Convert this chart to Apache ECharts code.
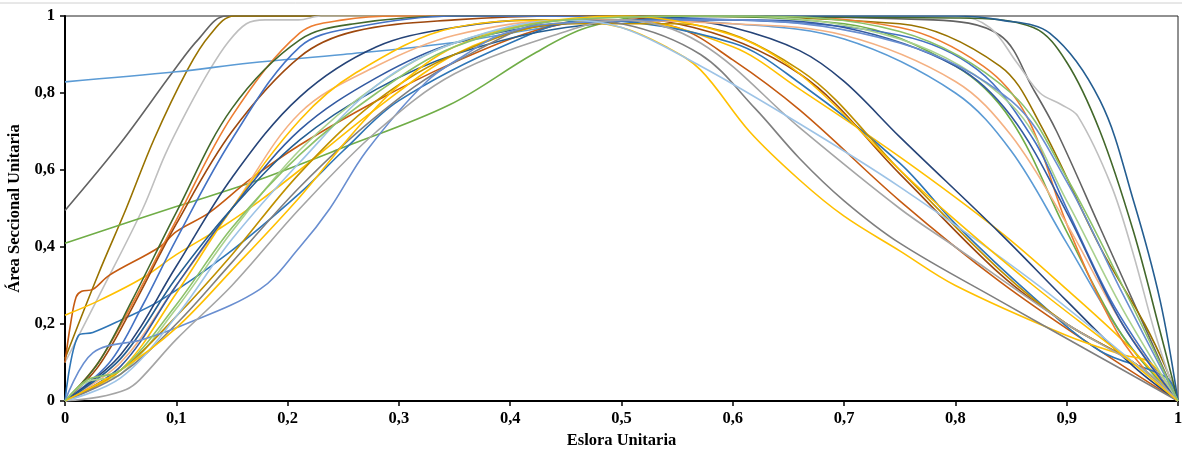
<!DOCTYPE html>
<html>
<head>
<meta charset="UTF-8" />
<title>Área Seccional Unitaria</title>
<script src="https://cdn.jsdelivr.net/npm/echarts@6/dist/echarts.min.js"></script>
<style>
  html, body { margin: 0; padding: 0; background: #fff; }
  #chart { width: 1182px; height: 452px; }
</style>
</head>
<body>
<div id="chart"></div>
<script>
// curvas [eslora, area]
var c01 = [[0,0.495],[0.05,0.67],[0.097,0.855],[0.12,0.94],[0.145,1],[0.5,1],[0.78,0.99],[0.84,0.95],[0.87,0.81],[0.891,0.70],[0.93,0.45],[0.972,0.18],[1,0]];
var c02 = [[0,0.11],[0.03,0.33],[0.055,0.5],[0.08,0.68],[0.11,0.86],[0.13,0.95],[0.152,1],[0.5,1],[0.75,0.98],[0.84,0.87],[0.876,0.72],[0.93,0.40],[0.97,0.2],[0.99,0.08],[1,0]];
var c03 = [[0,0.1],[0.03,0.27],[0.07,0.5],[0.09,0.64],[0.11,0.756],[0.13,0.86],[0.146,0.93],[0.163,0.98],[0.18,0.99],[0.21,0.99],[0.23,1],[0.8,1],[0.831,0.97],[0.855,0.88],[0.876,0.80],[0.895,0.77],[0.91,0.74],[0.94,0.56],[0.96,0.38],[0.98,0.17],[1,0]];
var c04 = [[0,0.829],[0.1,0.855],[0.166,0.878],[0.25,0.9],[0.346,0.93],[0.42,0.965],[0.48,0.99],[0.6,0.98],[0.7,0.94],[0.8,0.80],[0.85,0.65],[0.9,0.41],[0.95,0.17],[1,0]];
var c05 = [[0,0.41],[0.1,0.505],[0.166,0.566],[0.247,0.655],[0.346,0.77],[0.42,0.9],[0.469,0.97],[0.53,1],[0.7,0.98],[0.8,0.87],[0.85,0.73],[0.9,0.44],[0.95,0.17],[1,0]];
var c06 = [[0,0.1],[0.005,0.2],[0.01,0.27],[0.015,0.285],[0.025,0.29],[0.04,0.327],[0.085,0.4],[0.1,0.44],[0.13,0.49],[0.166,0.575],[0.211,0.665],[0.28,0.78],[0.346,0.875],[0.42,0.96],[0.48,0.99],[0.55,0.97],[0.6,0.886],[0.66,0.756],[0.75,0.52],[0.84,0.31],[0.93,0.13],[1,0]];
var c07 = [[0,0.223],[0.03,0.26],[0.07,0.32],[0.1,0.38],[0.14,0.45],[0.175,0.52],[0.211,0.6],[0.28,0.76],[0.35,0.9],[0.42,0.97],[0.5,0.99],[0.6,0.92],[0.66,0.81],[0.75,0.634],[0.84,0.44],[0.9,0.29],[0.96,0.13],[1,0]];
var c08 = [[0,0],[0.012,0.17],[0.025,0.178],[0.05,0.21],[0.085,0.26],[0.145,0.38],[0.211,0.54],[0.25,0.65],[0.3,0.78],[0.4,0.93],[0.47,0.99],[0.6,0.93],[0.66,0.826],[0.75,0.618],[0.8,0.46],[0.87,0.27],[0.93,0.13],[0.99,0.06],[1,0]];
var c09 = [[0,0],[0.03,0.1],[0.06,0.25],[0.1,0.47],[0.15,0.74],[0.211,0.956],[0.25,0.99],[0.3,1],[0.6,1],[0.75,0.97],[0.825,0.87],[0.864,0.74],[0.9,0.46],[0.945,0.18],[0.98,0.05],[1,0]];
var c10 = [[0,0],[0.03,0.1],[0.06,0.26],[0.1,0.49],[0.15,0.76],[0.211,0.938],[0.26,0.98],[0.35,1],[0.8,0.995],[0.87,0.97],[0.9,0.88],[0.93,0.70],[0.96,0.44],[0.984,0.18],[1,0]];
var c11 = [[0,0],[0.03,0.09],[0.06,0.24],[0.1,0.46],[0.15,0.70],[0.211,0.894],[0.26,0.96],[0.35,0.99],[0.45,1],[0.55,0.98],[0.66,0.85],[0.75,0.59],[0.84,0.33],[0.9,0.2],[0.96,0.1],[1,0]];
var c12 = [[0,0],[0.04,0.1],[0.07,0.25],[0.1,0.42],[0.15,0.68],[0.211,0.92],[0.26,0.97],[0.35,1],[0.6,0.99],[0.75,0.95],[0.82,0.86],[0.87,0.68],[0.9,0.5],[0.94,0.26],[0.98,0.08],[1,0]];
var c13 = [[0,0],[0.05,0.12],[0.1,0.35],[0.15,0.58],[0.211,0.79],[0.28,0.92],[0.35,0.97],[0.42,0.99],[0.55,0.99],[0.6,0.97],[0.66,0.91],[0.7,0.83],[0.75,0.686],[0.84,0.436],[0.9,0.26],[0.96,0.09],[1,0]];
var c14 = [[0,0],[0.05,0.1],[0.1,0.3],[0.15,0.5],[0.211,0.748],[0.28,0.87],[0.35,0.95],[0.45,0.99],[0.6,0.98],[0.7,0.95],[0.8,0.83],[0.85,0.69],[0.9,0.46],[0.95,0.2],[1,0]];
var c15 = [[0,0],[0.05,0.08],[0.1,0.28],[0.15,0.5],[0.211,0.73],[0.26,0.85],[0.35,0.97],[0.45,0.99],[0.5,0.97],[0.54,0.92],[0.571,0.86],[0.615,0.70],[0.66,0.574],[0.7,0.48],[0.75,0.39],[0.8,0.30],[0.9,0.17],[0.95,0.12],[0.975,0.1],[1,0]];
var c16 = [[0,0],[0.05,0.09],[0.1,0.3],[0.15,0.5],[0.211,0.704],[0.28,0.84],[0.35,0.93],[0.45,0.98],[0.6,0.99],[0.7,0.97],[0.8,0.87],[0.85,0.74],[0.9,0.49],[0.95,0.2],[1,0]];
var c17 = [[0,0],[0.05,0.11],[0.1,0.32],[0.15,0.5],[0.211,0.678],[0.28,0.81],[0.35,0.9],[0.45,0.97],[0.6,1],[0.8,1],[0.84,0.99],[0.885,0.955],[0.93,0.78],[0.96,0.52],[0.984,0.26],[1,0]];
var c18 = [[0,0],[0.02,0.05],[0.05,0.07],[0.1,0.24],[0.15,0.44],[0.211,0.652],[0.28,0.82],[0.35,0.93],[0.45,0.99],[0.6,1],[0.75,0.94],[0.85,0.77],[0.9,0.52],[0.95,0.24],[1,0]];
var c19 = [[0,0],[0.05,0.08],[0.1,0.22],[0.15,0.38],[0.211,0.592],[0.28,0.78],[0.35,0.9],[0.45,0.98],[0.55,0.98],[0.66,0.86],[0.75,0.60],[0.84,0.34],[0.9,0.2],[0.96,0.1],[1,0]];
var c20 = [[0,0],[0.05,0.07],[0.1,0.2],[0.15,0.36],[0.211,0.556],[0.28,0.74],[0.35,0.88],[0.45,0.99],[0.5,0.98],[0.571,0.9],[0.62,0.76],[0.66,0.63],[0.7,0.52],[0.75,0.41],[0.84,0.26],[0.92,0.13],[1,0]];
var c21 = [[0,0],[0.025,0.125],[0.07,0.16],[0.1,0.19],[0.175,0.29],[0.211,0.4],[0.238,0.5],[0.271,0.65],[0.325,0.83],[0.36,0.9],[0.39,0.95],[0.436,0.98],[0.6,0.99],[0.75,0.93],[0.85,0.78],[0.9,0.57],[0.95,0.28],[1,0]];
var c22 = [[0,0],[0.03,0.01],[0.055,0.03],[0.067,0.055],[0.1,0.16],[0.15,0.3],[0.211,0.5],[0.28,0.7],[0.35,0.85],[0.45,0.96],[0.5,0.99],[0.571,0.93],[0.66,0.71],[0.75,0.5],[0.8,0.4],[0.9,0.2],[0.97,0.08],[1,0]];
var c23 = [[0,0],[0.05,0.06],[0.1,0.22],[0.15,0.42],[0.211,0.62],[0.28,0.82],[0.35,0.93],[0.45,0.99],[0.5,0.97],[0.571,0.87],[0.66,0.72],[0.75,0.556],[0.87,0.31],[0.96,0.1],[1,0]];
var c24 = [[0,0],[0.05,0.08],[0.1,0.19],[0.15,0.34],[0.211,0.53],[0.26,0.7],[0.3,0.82],[0.35,0.92],[0.42,0.98],[0.5,1],[0.6,0.95],[0.66,0.85],[0.75,0.6],[0.8,0.47],[0.87,0.3],[0.95,0.12],[1,0]];
var c25 = [[0,0],[0.02,0.055],[0.05,0.08],[0.1,0.25],[0.15,0.45],[0.211,0.64],[0.28,0.8],[0.35,0.92],[0.45,0.99],[0.6,1],[0.75,0.96],[0.85,0.8],[0.9,0.58],[0.95,0.3],[1,0]];

var curvas = [c01,c02,c03,c04,c05,c06,c07,c08,c09,c10,c11,c12,c13,c14,c15,c16,c17,c18,c19,c20,c21,c22,c23,c24,c25];
var colores = ['#636363','#997300','#BFBFBF','#5B9BD5','#70AD47','#C55A11','#FFC000','#2E75B6','#ED7D31','#43682B',
               '#9E480E','#4472C4','#264478','#F4B183','#FFC000','#335AA1','#255E91','#A9D18E','#BF9000','#7F7F7F',
               '#698ED0','#A5A5A5','#9DC3E6','#FFC000','#8CC168'];

var chart = echarts.init(document.getElementById('chart'));

var fuente = { fontFamily: 'Liberation Serif', fontWeight: 'bold', fontSize: 16.5, color: '#000' };
function coma(v) { return String(Math.round(v * 10) / 10).replace('.', ','); }

var series = [];
for (var i = 0; i < curvas.length; i++) {
  series.push({
    type: 'line',
    data: curvas[i],
    smooth: 0.35,
    showSymbol: false,
    clip: true,
    lineStyle: { color: colores[i], width: 1.6 },
    itemStyle: { color: colores[i] }
  });
}

chart.setOption({
  animation: false,
  backgroundColor: '#fff',
  grid: { left: 65, right: 4, top: 16, bottom: 51, outerBoundsMode: 'none', containLabel: false,
          show: true, borderColor: '#222', borderWidth: 1 },
  graphic: [{ type: 'line', shape: { x1: 0, y1: 3, x2: 1182, y2: 3 }, style: { stroke: '#d0d0d0', lineWidth: 1 } }],
  xAxis: {
    type: 'value', min: 0, max: 1, interval: 0.1,
    name: 'Eslora Unitaria', nameLocation: 'middle', nameGap: 31,
    nameTextStyle: fuente,
    axisLine: { show: true, lineStyle: { color: '#000', width: 2 } },
    axisTick: { show: true, length: 5, lineStyle: { color: '#000', width: 1.5 } },
    axisLabel: Object.assign({ margin: 9, formatter: coma }, fuente),
    splitLine: { show: false }
  },
  yAxis: {
    type: 'value', min: 0, max: 1, interval: 0.2,
    name: 'Área Seccional Unitaria', nameLocation: 'middle', nameGap: 40, nameRotate: 90,
    nameTextStyle: fuente,
    axisLine: { show: true, lineStyle: { color: '#000', width: 2 } },
    axisTick: { show: true, length: 5, lineStyle: { color: '#000', width: 1.5 } },
    axisLabel: Object.assign({ margin: 10, formatter: coma }, fuente),
    splitLine: { show: false }
  },
  series: series
});
</script>
</body>
</html>
